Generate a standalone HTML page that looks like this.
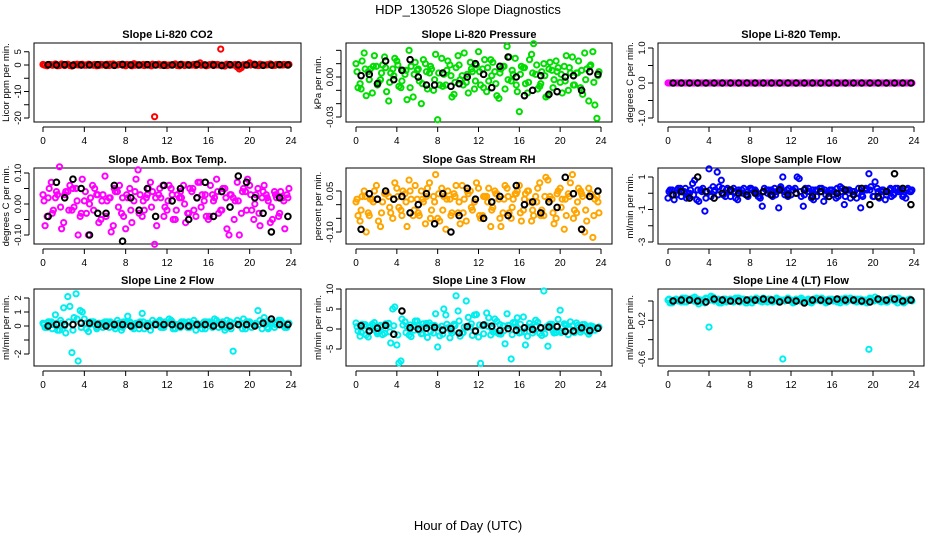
<!DOCTYPE html>
<html><head><meta charset="utf-8"><style>
html,body{margin:0;padding:0;background:#fff;}
svg{display:block;font-family:"Liberation Sans",sans-serif;}
</style></head><body>
<svg id="chart" width="936" height="540" viewBox="0 0 936 540" xmlns="http://www.w3.org/2000/svg">
<text x="468" y="14" text-anchor="middle" font-size="13">HDP_130526  Slope Diagnostics</text>
<text x="468" y="530" text-anchor="middle" font-size="13">Hour of Day (UTC)</text>
<g id="panels"></g>
</svg>
<script>
// ---- data (hours: colored A at i*0.4, B at i*0.4+0.2, C at i*0.4+0.1, black at i*0.8+0.5) ----
const xTicks = [0,4,8,12,16,20,24];
const titles = ["Slope Li-820 CO2","Slope Li-820 Pressure","Slope Li-820 Temp.","Slope Amb. Box Temp.","Slope Gas Stream RH","Slope Sample Flow","Slope Line 2 Flow","Slope Line 3 Flow","Slope Line 4 (LT) Flow"];
const yLabels = ["Licor ppm per min.","kPa per min.","degrees C per min.","degrees C per min.","percent per min.","ml/min per min.","ml/min per min.","ml/min per min.","ml/min per min."];
const colors = ["#ff0000","#00dd00","#ff00ff","#ff00ff","#ffa500","#0000ff","#00eeee","#00eeee","#00eeee"];
const yTicks = [[-20,-15,-10,-5,0,5],[-0.03,-0.02,-0.01,0,0.01,0.02],[-1,-0.5,0,0.5,1],[-0.1,-0.05,0,0.05,0.1],[-0.1,-0.05,0,0.05],[-3,-2,-1,0,1],[-2,-1,0,1,2],[-5,0,5,10],[-0.6,-0.4,-0.2,0]];
const yTickLabels = [["-20","","-10","","0","5"],["-0.03","","","0.00","",""],["-1.0","","0.0","","1.0"],["-0.10","","0.00","","0.10"],["-0.10","","","0.05"],["-3","","-1","","1"],["-2","","0","1","2"],["-5","0","5","10"],["-0.6","","-0.2",""]];

const cA = [
[0.2,-0.3,0.1,0.4,-0.2,0,0.3,-0.4,0.1,0.2,-0.1,0.3,0,-0.3,0.2,0.1,-0.2,0.4,0,0.2,-0.3,0.1,0.5,-0.1,0,0.2,-0.2,-19.5,0.3,0.1,-0.2,0,0.4,-0.3,0.1,0.2,0,-0.2,0.8,0.1,-0.1,0.3,0,6,-0.4,0.2,0,-0.8,-1,0.1,0.8,0.3,-0.2,0.1,0,0.4,-0.1,0.2,0,0.1],
[0.01,-0.005,0.018,0.004,-0.012,0.008,-0.002,0.015,-0.018,0.006,0.012,-0.008,0.002,0.02,-0.015,0.005,-0.02,0.01,0.003,-0.01,-0.032,0.014,-0.006,0.009,-0.013,0.016,0.001,-0.004,0.011,-0.009,0.019,0.006,-0.011,0.013,0.004,-0.016,0.008,0.023,-0.003,0.014,-0.026,0.007,-0.012,0.017,0.002,-0.007,0.01,-0.014,0.005,0.012,-0.004,0.008,-0.01,0.015,0.003,-0.008,0.018,-0.018,0.019,-0.031],
[0,0,0,0,0,0,0,0,0,0,0,0,0,0,0,0,0,0,0,0,0,0,0,0,0,0,0,0,0,0,0,0,0,0,0,0,0,0,0,0,0,0,0,0,0,0,0,0,0,0,0,0,0,0,0,0,0,0,0,0],
[0.03,-0.04,0.07,0.02,0.12,-0.06,0.04,-0.02,0.05,-0.04,0.01,-0.1,0.06,0.03,-0.05,0.09,0.02,-0.07,0.04,-0.03,-0.08,0.05,0.01,0.11,-0.04,0.02,0.07,-0.13,0.03,0.06,-0.02,0.05,-0.05,0.02,0.06,-0.03,0.04,-0.04,0.07,0.01,-0.05,0.03,0.08,-0.02,0.05,-0.1,0.02,0.07,-0.03,0.04,0.06,-0.05,0.05,0.02,0.03,-0.06,0.04,-0.04,0.02,0.03],
[0.01,-0.06,0.05,-0.03,0.02,0.07,-0.08,0.04,0.03,-0.05,0.06,-0.02,0.04,0.09,-0.04,0.02,0.05,-0.07,0.08,0.03,-0.05,0.06,-0.09,0.02,0.04,-0.03,0.07,-0.06,0.05,0.01,0.06,-0.04,0.03,-0.08,0.05,0.02,-0.03,0.06,-0.05,0.04,0.07,-0.02,0.05,-0.06,0.03,0.08,-0.04,0.09,0.02,-0.05,0.06,-0.09,0.04,0.11,-0.03,0.05,-0.1,0.06,-0.12,0.03],
[-0.3,0.2,-0.1,0.3,0.1,-0.2,0.6,-0.4,0.2,-1.1,1.5,0.4,1.3,0.8,-0.2,0.1,0.3,-0.4,0.2,-0.1,0.3,0.1,-0.2,-0.8,0.2,-0.1,0.3,-0.9,1.0,0.2,-0.1,0.3,0.9,-0.8,0.1,-0.3,0.2,0.3,-0.5,0.1,0.2,-0.3,0.4,-0.7,0.2,0.1,-0.3,-0.9,0.2,1.2,-0.2,0.3,0.1,-0.4,0.2,-0.1,0.3,0.2,-0.3,0.1],
[0.2,-0.1,0.3,0.8,-0.3,1.3,2.1,-1.9,2.3,1.1,0.5,-0.4,0.3,-0.2,0.1,0.3,-0.1,0.2,0.4,-0.3,0.1,0.3,-0.2,0.2,0.9,0.1,-0.3,0.2,0.3,-0.1,0.2,0.4,-0.2,0.1,0.3,-0.1,0.2,-0.3,0.1,0.3,0.2,-0.1,0.4,0.2,-0.3,0.1,-1.8,0.4,0.2,-0.2,0.3,0.1,1.1,-0.2,0.3,0.2,-0.1,0.4,0.2,-0.1],
[1.5,-1.8,0.8,-2.0,1.2,-0.6,0.9,-1.1,1.4,5,-4,-8,1.8,-1.5,0.6,2,-1.2,0.8,1.5,-1.0,-4.5,0.7,3.5,-2.2,1.2,4.5,-1,7,0.5,3.5,-2,0.8,4,-1.5,2.5,-1.2,0.8,3.8,-7.5,1.5,-1.0,3,-1.8,0.6,2.2,-1.1,9.5,-4.3,1.2,-0.9,4.7,1.3,-1.4,0.8,1.5,-0.8,1.1,-1.3,0.6,0.2],
[0.01,-0.02,0.02,0.0,-0.01,0.02,0.03,-0.01,0.01,-0.02,-0.27,0.04,0.01,-0.02,0.02,0.0,-0.01,0.03,0.02,-0.02,0.01,0.0,0.02,-0.01,0.01,0.02,0.0,-0.01,-0.6,0.02,0.01,-0.01,0.02,0.0,0.01,-0.02,0.02,0.01,0.0,-0.01,0.02,0.01,-0.02,0.0,0.02,0.01,-0.01,0.02,0.0,-0.5,0.01,0.02,-0.01,0.0,0.02,0.01,-0.02,0.01,0.0,0.02]
];
const cB = [
[-0.1,0.2,0,-0.3,0.4,0.1,-0.2,0.2,0,0.3,-0.1,0,0.2,-0.2,0.1,0.3,0,-0.1,0.2,0,0.1,-0.3,0.2,0,-0.2,0.1,0.3,0,-0.1,0.2,0,0.1,-0.2,0.3,0,-0.1,0.2,0.1,0,-0.3,0.1,0.2,0,-0.1,0.3,0,0.2,-1.5,0.1,0,0.2,-0.1,0.3,0,0.1,-0.2,0.2,0,0.1,0.2],
[-0.008,0.012,-0.014,0.006,0.016,-0.004,0.009,-0.011,0.003,0.014,-0.007,0.005,-0.017,0.008,0.011,-0.003,0.013,-0.009,0.006,0.017,-0.006,0.002,0.012,-0.015,0.007,-0.002,0.018,-0.012,0.004,0.009,-0.006,0.013,-0.003,0.011,-0.014,0.006,-0.009,0.015,0.002,-0.011,0.008,-0.005,0.013,0.025,-0.009,0.004,-0.015,0.011,-0.002,0.007,-0.012,0.016,0.003,-0.006,0.012,-0.013,0.006,0.009,-0.021,0.004],
[0,0,0,0,0,0,0,0,0,0,0,0,0,0,0,0,0,0,0,0,0,0,0,0,0,0,0,0,0,0,0,0,0,0,0,0,0,0,0,0,0,0,0,0,0,0,0,0,0,0,0,0,0,0,0,0,0,0,0,0],
[-0.07,0.05,-0.02,0.03,-0.08,0.04,0.06,-0.01,-0.1,0.08,-0.03,0.02,0.05,-0.06,0.03,0.01,-0.09,0.04,0.06,-0.04,0.02,-0.06,0.08,0.03,-0.02,0.05,0.04,-0.07,0.02,-0.01,0.06,-0.05,0.03,0.02,-0.06,0.05,-0.02,0.07,0.03,-0.04,0.06,0.02,-0.03,0.05,-0.08,0.03,0.01,-0.1,0.05,0.08,-0.02,0.03,-0.07,0.06,0.01,-0.05,0.02,0.04,-0.08,0.05],
[-0.04,0.03,-0.1,0.02,0.05,-0.06,0.01,0.04,-0.03,0.08,-0.01,0.05,-0.08,0.02,0.07,-0.04,0.01,0.06,-0.02,0.11,-0.06,0.03,0.05,-0.03,0.07,-0.07,0.02,0.04,-0.02,0.08,-0.05,0.03,0.06,-0.01,0.04,-0.08,0.07,-0.03,0.02,0.05,-0.06,0.04,0.01,-0.04,0.06,-0.02,0.1,0.03,-0.07,0.05,0.02,-0.04,0.08,-0.02,0.06,0.03,-0.06,0.04,0.02,-0.03],
[0.2,-0.4,0.3,0.1,-0.3,0.2,0.8,-0.5,0.3,0.1,-0.2,0.2,0.4,-0.1,0.3,0.2,-0.3,0.1,0.3,-0.2,0.2,0.1,-0.3,0.3,0.2,-0.2,0.1,0.4,-0.1,0.3,0.2,1.0,-0.2,0.3,0.1,-0.4,0.2,0.3,-0.1,0.2,0.1,-0.2,0.3,0.2,-0.3,0.1,0.3,-0.2,0.2,0.4,0.7,-0.3,0.2,0.1,-0.2,0.3,0.2,-0.1,0.3,0.2],
[-0.1,0.3,0.1,-0.3,0.2,-0.5,1.4,0.6,-2.5,1.0,-0.2,0.3,0.1,0.2,-0.1,0.3,0.2,-0.2,0.1,0.3,0.7,-0.1,0.2,0.3,-0.2,0.1,0.4,0.2,-0.1,0.3,0.5,-0.2,0.1,0.3,0.2,-0.1,0.4,0.1,-0.2,0.3,0.2,0.5,-0.1,0.3,0.4,-0.2,0.2,0.1,0.5,0.3,-0.1,0.2,0.4,0.6,-0.2,0.3,0.1,0.4,-0.1,0.2],
[-0.5,1.2,-1.5,0.4,1.6,-0.8,-1.4,0.9,-3.5,5.5,-8.5,1.0,0.6,-1.9,2,-0.4,1.3,-2.1,0.9,3.8,-1.7,5,0.3,-1.0,8.3,-1.8,0.5,2.9,-1.6,3.6,-8.6,1.1,2.8,-0.7,1.9,-1.3,-3.7,0.9,1.6,2.8,-0.8,-4,1.4,-0.3,1.7,-1.6,0.5,1.2,-1.0,2.4,-0.6,0.9,1.8,-0.9,0.4,1.1,-0.7,0.8,-0.3,0.5],
[-0.02,0.01,0.0,0.03,-0.01,0.02,0.04,-0.03,0.01,0.02,0.05,0.01,-0.02,0.02,0.0,0.01,0.03,-0.01,0.02,0.01,-0.02,0.03,0.0,0.01,0.02,-0.01,0.03,0.01,0.0,0.02,-0.02,0.01,0.03,0.0,-0.01,0.02,0.01,0.03,-0.02,0.0,0.01,0.02,0.0,-0.01,0.03,0.02,0.0,0.01,-0.02,0.02,0.04,0.0,0.01,-0.01,0.03,0.0,0.02,-0.02,0.01,0.0]
];
const cC = [
[0,0.1,-0.1,0.2,0,-0.2,0.1,0,0.3,-0.1,0,0.2,-0.1,0.1,0,-0.2,0.3,0,0.1,-0.1,0.2,0,-0.1,0.1,0.2,0,-0.3,0.1,0,0.2,-0.1,0.1,0,0.2,-0.2,0.1,0,0.3,-0.1,0,0.1,-0.2,0.2,0,0.1,-0.1,0,0.2,-0.1,0.1,0,0.3,-0.2,0,0.1,0.2,-0.1,0,0.2,0],
[0.004,-0.009,0.006,-0.002,0.008,-0.006,0.003,0.007,-0.004,0.001,0.009,-0.003,0.005,-0.008,0.002,0.006,-0.005,0.004,0.008,-0.002,0.003,-0.007,0.005,0.001,-0.004,0.009,-0.006,0.002,0.006,-0.003,0.004,-0.008,0.007,0.001,-0.005,0.003,0.008,-0.002,0.005,-0.006,0.002,0.007,-0.004,0.003,0.009,-0.005,0.001,0.006,-0.008,0.004,0.002,-0.003,0.007,-0.006,0.003,0.005,-0.002,0.008,-0.004,0.001],
[0,0,0,0,0,0,0,0,0,0,0,0,0,0,0,0,0,0,0,0,0,0,0,0,0,0,0,0,0,0,0,0,0,0,0,0,0,0,0,0,0,0,0,0,0,0,0,0,0,0,0,0,0,0,0,0,0,0,0,0],
[0.01,0.02,-0.03,0.04,-0.01,0.03,-0.02,0.05,0.01,-0.03,0.04,0.0,-0.02,0.03,0.01,-0.04,0.02,0.05,-0.01,0.02,0.03,-0.02,0.04,-0.03,0.01,0.03,-0.01,0.02,0.05,-0.04,0.01,0.03,-0.02,0.04,0.0,-0.03,0.05,0.02,-0.01,0.03,-0.04,0.01,0.04,-0.02,0.02,0.03,-0.05,0.01,0.04,-0.02,0.03,0.0,-0.03,0.04,0.02,-0.01,0.03,-0.03,0.01,0.02],
[0.02,-0.02,0.03,-0.04,0.01,0.02,-0.03,0.04,-0.01,0.02,0.03,-0.04,0.01,0.05,-0.02,-0.03,0.02,0.03,-0.05,0.01,0.04,-0.02,0.02,-0.04,0.03,0.01,-0.03,0.05,-0.01,0.02,-0.04,0.03,0.01,-0.02,0.04,-0.05,0.02,0.03,-0.01,0.04,-0.03,0.02,0.05,-0.02,0.01,-0.04,0.03,0.02,-0.03,0.04,-0.01,0.02,0.03,-0.05,0.01,0.04,-0.02,0.03,-0.04,0.01],
[0.1,-0.1,0.2,-0.2,0.3,0,-0.1,0.2,0.1,-0.3,0.2,0.1,-0.1,0.3,0.2,-0.2,0.1,0.2,0,-0.1,0.3,0.2,-0.2,0.1,0,0.2,-0.1,0.3,0.1,-0.2,0.2,0,0.1,-0.1,0.3,0.2,-0.2,0.1,0.2,0,-0.1,0.3,0.1,-0.2,0.2,0.1,0,-0.1,0.3,0.2,-0.2,0.1,0.2,-0.1,0.3,0,0.1,-0.2,0.2,0.1],
[0.1,0.3,-0.2,0.2,0.4,0,0.3,-0.3,0.5,-0.1,0.2,0.1,0.3,-0.1,0.2,0.1,0.3,0,0.2,-0.1,0.3,0.2,0.1,-0.2,0.3,0.2,0,0.1,0.4,-0.1,0.2,0.3,0.1,-0.1,0.2,0.3,0,0.2,0.1,-0.2,0.3,0.1,0.2,0,-0.1,0.3,0.2,0.1,-0.2,0.3,0.2,0,0.1,0.3,-0.1,0.2,0.1,0.3,0,0.2],
[0.6,-0.8,1.1,-0.4,0.9,-1.2,0.5,1.3,-0.7,0.8,-1.5,2.5,-0.9,1.0,-0.3,0.7,-1.1,1.4,-0.6,0.9,0.3,-1.3,1.2,-0.5,0.8,2.0,-0.9,0.4,1.3,-0.6,1.0,-1.2,0.7,0.2,-0.8,1.1,-0.4,0.9,-1.4,0.6,1.2,-0.7,0.5,-1.0,0.8,0.3,-1.2,1.0,-0.5,0.7,-0.9,1.1,0.2,-0.6,0.9,-0.3,0.5,-0.8,0.4,0.1],
[0.02,0.0,0.01,-0.01,0.03,0.01,0.0,0.02,-0.01,0.03,0.01,0.0,0.02,0.01,-0.01,0.02,0.0,0.03,0.01,-0.02,0.02,0.01,0.0,0.03,-0.01,0.01,0.02,0.0,0.01,0.03,-0.01,0.02,0.0,0.01,0.02,-0.01,0.03,0.0,0.01,0.02,0.0,-0.01,0.02,0.03,0.01,0.0,0.02,-0.01,0.01,0.03,0.0,0.02,0.01,-0.01,0.02,0.0,0.03,0.01,0.0,0.01]
];
const kVals = [
[0.1,0,0.1,-0.1,0,0,0.1,0,-0.1,0.2,0,0,0.1,0,-0.1,0,0.1,0,0.2,0,0,-0.2,0.1,0,0,0.1,-0.1,0,0.1,0],
[0.001,0.002,-0.005,0.012,-0.002,0.005,0.013,0,-0.006,-0.006,0.003,-0.007,-0.005,0,0.01,0.002,-0.008,0.008,0.015,0.000,-0.014,-0.01,0.001,-0.013,-0.011,0,0.001,-0.01,0.004,0.002],
[0,0,0,0,0,0,0,0,0,0,0,0,0,0,0,0,0,0,0,0,0,0,0,0,0,0,0,0,0,0],
[-0.04,0.07,0.02,0.08,0.05,-0.1,-0.03,-0.03,0.06,-0.12,0.02,-0.02,0.05,-0.04,0.06,0.01,0.05,-0.05,0.02,0.07,-0.04,0.04,-0.01,0.09,0.07,0.02,-0.03,-0.09,0.02,-0.04],
[-0.09,0.04,0.02,0.05,0.02,0.03,-0.03,0,0.04,-0.07,0.04,-0.1,-0.04,0.06,0.02,-0.05,0.01,0.03,-0.04,0.07,0,0.01,-0.03,0.01,-0.01,0.1,0.04,-0.09,0.03,0.05],
[-0.1,0.1,-0.3,1.0,0.1,-0.3,0,0.2,0,-0.1,0,0.1,-0.1,0.2,-0.1,0,0.2,-0.2,0.1,-0.2,0,0.2,-0.1,0.3,-0.7,-0.2,0.1,1.2,0.3,-0.7],
[0,0.1,0.1,0.1,0.2,0.2,0.1,0,0.1,0.1,0,0.1,0,0.1,0.1,0.1,0,0,0.1,0.1,0,0.1,0,0.1,0.1,0,0.2,0.5,0.1,0.1],
[0.8,-0.5,0.2,0.9,-1.3,4.5,0.3,0,0.2,0.4,-0.3,0.1,-1.0,0.6,-0.5,1.0,0.7,-0.4,0.1,-0.3,0.3,-0.1,0.3,0.5,0.6,-0.6,-0.5,0.3,-0.4,0.2],
[0,0.01,0.01,0,-0.01,0.02,0.01,0,0,0.01,0.01,0.02,0.01,-0.01,0.01,0,-0.02,0.01,0.01,0,0.02,0.01,0.01,0,-0.01,0.02,0.01,0.02,0,0.01]
];

// ---- layout ----
const cols = [{l:34,r:301,x0:43,x1:291},{l:346,r:612,x0:356,x1:601},{l:658,r:924,x0:668,x1:914}];
const rows = [{t:43,b:122},{t:168,b:244},{t:289,b:366}];
const yCal = [[0,65,-20,118],[0,77,-0.03,117],[0,83,1,48],[0,204,0.1,173],[0.05,191,-0.1,232],[1,177,-3,242],[0,326,2,298],[0,329,10,289],[0,301,-0.6,359]];

const NS = "http://www.w3.org/2000/svg";
const root = document.getElementById("panels");
function mk(tag, attrs, parent){const e=document.createElementNS(NS,tag);for(const k in attrs)e.setAttribute(k,attrs[k]);parent.appendChild(e);return e;}

for(let p=0;p<9;p++){
  const c=cols[p%3], r=rows[Math.floor(p/3)];
  const xs=h=>c.x0+(c.x1-c.x0)*h/24;
  const [v1,p1,v2,p2]=yCal[p];
  const ys=v=>p1+(v-v1)*(p2-p1)/(v2-v1);
  const g=mk("g",{},root);
  
  
  const t=mk("text",{x:(c.l+c.r)/2,y:r.t-5,"text-anchor":"middle","font-size":"11","font-weight":"bold"},g);
  t.textContent=titles[p];
  
  
  const yl=mk("text",{x:0,y:0,"text-anchor":"middle","font-size":"9.5",transform:`translate(${c.l-25},${(r.t+r.b)/2}) rotate(-90)`},g);
  yl.textContent=yLabels[p];
  
  
  const box=mk("rect",{x:c.l,y:r.t,width:c.r-c.l,height:r.b-r.t,fill:"none",stroke:"#000","stroke-width":1},g);
  
  
  const xa=mk("g",{},g);
  
  
  mk("line",{x1:xs(0),x2:xs(24),y1:r.b+5,y2:r.b+5,stroke:"#000"},xa);
  xTicks.forEach(h=>{
    mk("line",{x1:xs(h),x2:xs(h),y1:r.b+5,y2:r.b+10,stroke:"#000"},xa);
    const tl=mk("text",{x:xs(h),y:r.b+22,"text-anchor":"middle","font-size":"10"},xa);
    tl.textContent=h;
    
    
  });
  const ya=mk("g",{},g);
  
  
  const tk=yTicks[p];
  mk("line",{x1:c.l-5,x2:c.l-5,y1:ys(tk[0]),y2:ys(tk[tk.length-1]),stroke:"#000"},ya);
  tk.forEach((v,i)=>{
    const y=ys(v);
    mk("line",{x1:c.l-10,x2:c.l-5,y1:y,y2:y,stroke:"#000"},ya);
    if(yTickLabels[p][i]){
      const tl=mk("text",{x:0,y:0,"text-anchor":"middle","font-size":"9.5",transform:`translate(${c.l-13},${y}) rotate(-90)`},ya);
      tl.textContent=yTickLabels[p][i];
      
      
    }
  });
  const sc=mk("g",{fill:"none",stroke:colors[p],"stroke-width":2},g);
  
  
  [[cA,0],[cB,0.2],[cC,0.1]].forEach(([arr,off])=>{
    arr[p].forEach((v,i)=>{
      const pt=mk("circle",{cx:xs(i*0.4+off),cy:ys(v),r:2.6},sc);
      
      
    });
  });
  const sk=mk("g",{fill:"none",stroke:"#000","stroke-width":2},g);
  
  
  kVals[p].forEach((v,i)=>{
    const pt=mk("circle",{cx:xs(i*0.8+0.5),cy:ys(v),r:2.8},sk);
    
    
  });
}
</script>
</body></html>
